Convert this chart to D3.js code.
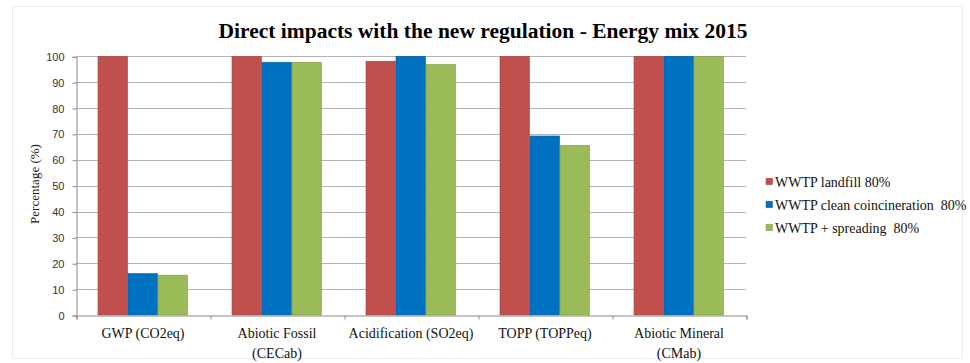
<!DOCTYPE html>
<html><head><meta charset="utf-8">
<script src="https://cdn.jsdelivr.net/npm/d3@7"></script>
<style>
html,body{margin:0;padding:0;background:#fff;}
svg{display:block;}
</style></head>
<body>
<svg id="chart" width="970" height="363"></svg>
<script>
const title = "Direct impacts with the new regulation - Energy mix 2015";
const categories = [["GWP (CO2eq)"], ["Abiotic Fossil", "(CECab)"], ["Acidification (SO2eq)"], ["TOPP (TOPPeq)"], ["Abiotic Mineral", "(CMab)"]];
const seriesNames = ["WWTP landfill 80%", "WWTP clean coincineration  80%", "WWTP + spreading  80%"];
const landfill = [100, 100, 98.1, 100, 100];
const coincineration = [16, 97.7, 100, 69.2, 100];
const spreading = [15.4, 97.7, 96.8, 65.6, 100];
const yTicks = [0, 10, 20, 30, 40, 50, 60, 70, 80, 90, 100];
const colors = ["#C0504D", "#0070C0", "#9BBB59"];
const strokes = ["#a8423f", "#005fa3", "#7f9a48"];
const series = [landfill, coincineration, spreading];

const svg = d3.select("#chart");
const mLeft = 76, mRight = 746, mTop = 56.3, mBottom = 315;

// faint frame
svg.append("rect").attr("x", 12.5).attr("y", 6.5).attr("width", 950).attr("height", 352)
  .attr("fill", "none").attr("stroke", "#ececec");

const x0 = d3.scaleBand().domain(d3.range(categories.length)).range([mLeft, mRight]).padding(0);
const x1 = d3.scaleBand().domain(d3.range(series.length)).range([22, 112]);
const y = d3.scaleLinear().domain([0, 100]).range([mBottom, mTop]);

// gridlines
svg.append("g").selectAll("line").data(yTicks.filter(d => d > 0)).join("line")
  .attr("x1", mLeft).attr("x2", mRight)
  .attr("y1", d => Math.round(y(d)) + 0.5).attr("y2", d => Math.round(y(d)) + 0.5)
  .attr("stroke", "#b4b4b4").attr("stroke-width", 1);

// bars
const groups = svg.append("g").selectAll("g").data(categories).join("g")
  .attr("transform", (d, i) => `translate(${x0(i)},0)`);
groups.selectAll("rect").data((d, i) => series.map((s, k) => ({k, v: s[i]}))).join("rect")
  .attr("x", d => x1(d.k)).attr("width", x1.bandwidth() - 0.5)
  .attr("y", d => y(d.v)).attr("height", d => y(0) - y(d.v))
  .attr("fill", d => colors[d.k]).attr("stroke", d => strokes[d.k]).attr("stroke-width", 0.6);

// y axis
const yAxis = d3.axisLeft(y).tickValues(yTicks).tickSize(4).tickPadding(8);
const gy = svg.append("g").attr("transform", `translate(${mLeft + 0.5},0.5)`).call(yAxis);
gy.select(".domain").attr("stroke", "#8a8a8a");
gy.selectAll(".tick line").attr("stroke", "#8a8a8a");
gy.selectAll(".tick text").attr("font-family", "Liberation Sans, Arial, sans-serif").attr("font-size", 11).attr("fill", "#333");

// x axis
const xAxisScale = d3.scaleLinear().domain([0, categories.length]).range([mLeft, mRight]);
const gx = svg.append("g").attr("transform", `translate(0.5,${mBottom + 0.5})`)
  .call(d3.axisBottom(xAxisScale).tickValues(d3.range(categories.length + 1)).tickSize(4).tickFormat(""));
gx.select(".domain").attr("stroke", "#8a8a8a");
gx.selectAll(".tick line").attr("stroke", "#8a8a8a");

// x labels
const xl = svg.append("g").selectAll("text").data(categories).join("text")
  .attr("x", (d, i) => x0(i) + x0.bandwidth() / 2).attr("y", 338)
  .attr("text-anchor", "middle").attr("font-family", "Liberation Serif, Times New Roman, serif")
  .attr("font-size", 14).attr("fill", "#111");
xl.selectAll("tspan").data(d => d).join("tspan")
  .attr("x", function() { return this.parentNode.getAttribute("x"); })
  .attr("dy", (d, i) => i === 0 ? 0 : 20).text(d => d);

// y title
svg.append("text").attr("transform", "translate(39,184) rotate(-90)")
  .attr("text-anchor", "middle").attr("font-family", "Liberation Serif, Times New Roman, serif")
  .attr("font-size", 13).attr("fill", "#222").text("Percentage (%)");

// title
svg.append("text").attr("x", 218.5).attr("y", 37.5).attr("text-anchor", "start")
  .attr("font-family", "Liberation Serif, Times New Roman, serif").attr("font-weight", "bold")
  .attr("font-size", 20.5).attr("fill", "#000")
  .attr("textLength", 529).attr("lengthAdjust", "spacingAndGlyphs").text(title);

// legend
const lg = svg.append("g").selectAll("g").data(seriesNames).join("g")
  .attr("transform", (d, i) => `translate(766,${186.5 + i * 23})`);
lg.append("rect").attr("x", 0).attr("y", -8.3).attr("width", 6.5).attr("height", 6.5)
  .attr("fill", (d, i) => colors[i]).attr("stroke", (d, i) => strokes[i]).attr("stroke-width", 0.5);
lg.append("text").attr("x", 9).attr("y", 0)
  .attr("font-family", "Liberation Serif, Times New Roman, serif").attr("font-size", 14)
  .attr("fill", "#111").style("white-space", "pre").text(d => d);
</script>
</body></html>
